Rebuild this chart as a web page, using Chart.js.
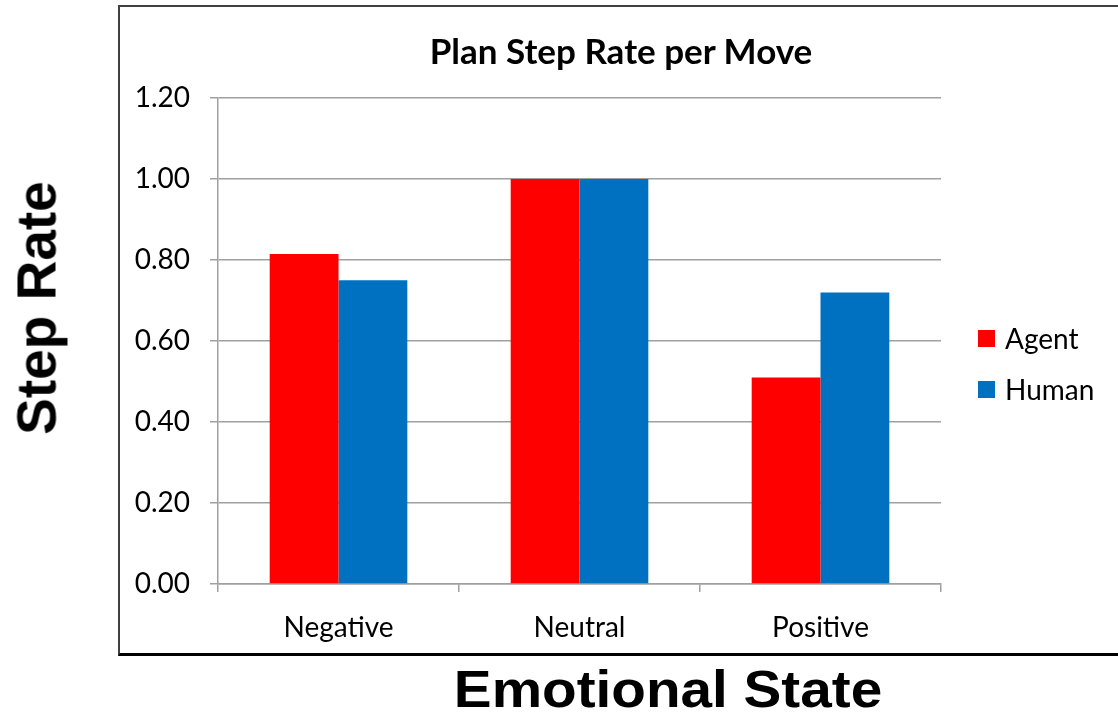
<!DOCTYPE html>
<html>
<head>
<meta charset="utf-8">
<script src="https://cdn.jsdelivr.net/npm/chart.js"></script>
<style>
    body { margin: 0; background: #fff; }
    #wrap { position: relative; width: 1118px; height: 717px; overflow: hidden; }
    #frame {
        position: absolute; left: 118px; top: 5px; width: 1020px; height: 646px;
        border-top: 2px solid #404040; border-left: 2px solid #404040; border-bottom: 3px solid #000;
    }
    #myChart { position: absolute; left: 0; top: 0; }
    #chartTitle {
        position: absolute; left: 621px; top: 50px; transform: translate(-50%, -50%);
        font-family: Lato, sans-serif; font-weight: bold; font-size: 35px; line-height: 1; white-space: nowrap;
    }
    .axis-title {
        position: absolute; font-family: 'Liberation Sans', Arial, sans-serif; font-weight: bold;
        color: #000; white-space: nowrap; line-height: 1;
    }
    #yTitle { left: 37px; top: 308px; font-size: 55px; transform: translate(-50%, -50%) rotate(-90deg); }
    #xTitle { left: 668px; top: 689px; font-size: 52px; transform: translate(-50%, -50%) scaleX(1.09); }
    #legend { position: absolute; left: 978px; top: 321px; font-family: Lato, sans-serif; font-size: 28px; }
    #legend .item { display: flex; align-items: center; height: 34px; margin-bottom: 17px; }
    #legend .swatch { width: 17px; height: 17px; margin-right: 10px; }
</style>
</head>
<body>
<div id="wrap">
    <div id="frame"></div>
    <canvas id="myChart" width="1118" height="717"></canvas>
    <div id="chartTitle">Plan Step Rate per Move</div>
    <div class="axis-title" id="yTitle">Step Rate</div>
    <div class="axis-title" id="xTitle">Emotional State</div>
    <div id="legend"></div>
</div>
<script>
const categories = ['Negative', 'Neutral', 'Positive'];
const agentRate = [0.815, 1.00, 0.51];
const humanRate = [0.75, 1.00, 0.72];
const yTicks = [0, 0.2, 0.4, 0.6, 0.8, 1.0, 1.2];

Chart.defaults.font.family = 'Lato';
Chart.defaults.font.size = 28;
Chart.defaults.color = '#000';

const gridGray = '#a0a0a0';

const ctx = document.getElementById('myChart').getContext('2d');
const myChart = new Chart(ctx, {
    type: 'bar',
    data: {
        labels: categories,
        datasets: [{
            label: 'Agent',
            data: agentRate,
            backgroundColor: '#ff0000'
        }, {
            label: 'Human',
            data: humanRate,
            backgroundColor: '#0070c0'
        }]
    },
    options: {
        responsive: false,
        animation: false,
        datasets: {
            bar: { categoryPercentage: 0.571, barPercentage: 1.0 }
        },
        layout: {
            padding: { left: 118, right: 177, top: 98, bottom: 73 }
        },
        plugins: {
            legend: { display: false },
            tooltip: { enabled: false }
        },
        scales: {
            x: {
                grid: { drawOnChartArea: false, tickLength: 8, color: gridGray, lineWidth: 1.5 },
                border: { color: gridGray, width: 1.5 },
                ticks: { padding: 19, maxRotation: 0 },
                afterFit: (scale) => { scale.height = 60; }
            },
            y: {
                min: 0,
                max: 1.2,
                grid: { tickLength: 8, color: gridGray, lineWidth: 1.5 },
                border: { color: gridGray, width: 1.5 },
                ticks: {
                    padding: 20,
                    callback: (v) => Number(v).toFixed(2)
                },
                afterBuildTicks: (scale) => { scale.ticks = yTicks.map(v => ({ value: v })); },
                afterFit: (scale) => { scale.width = 100; }
            }
        }
    }
});

// legend beside the plot, built from the datasets
const legendEl = document.getElementById('legend');
myChart.data.datasets.forEach(ds => {
    const item = document.createElement('div');
    item.className = 'item';
    const sw = document.createElement('span');
    sw.className = 'swatch';
    sw.style.background = ds.backgroundColor;
    const txt = document.createElement('span');
    txt.textContent = ds.label;
    item.appendChild(sw);
    item.appendChild(txt);
    legendEl.appendChild(item);
});
</script>
</body>
</html>
